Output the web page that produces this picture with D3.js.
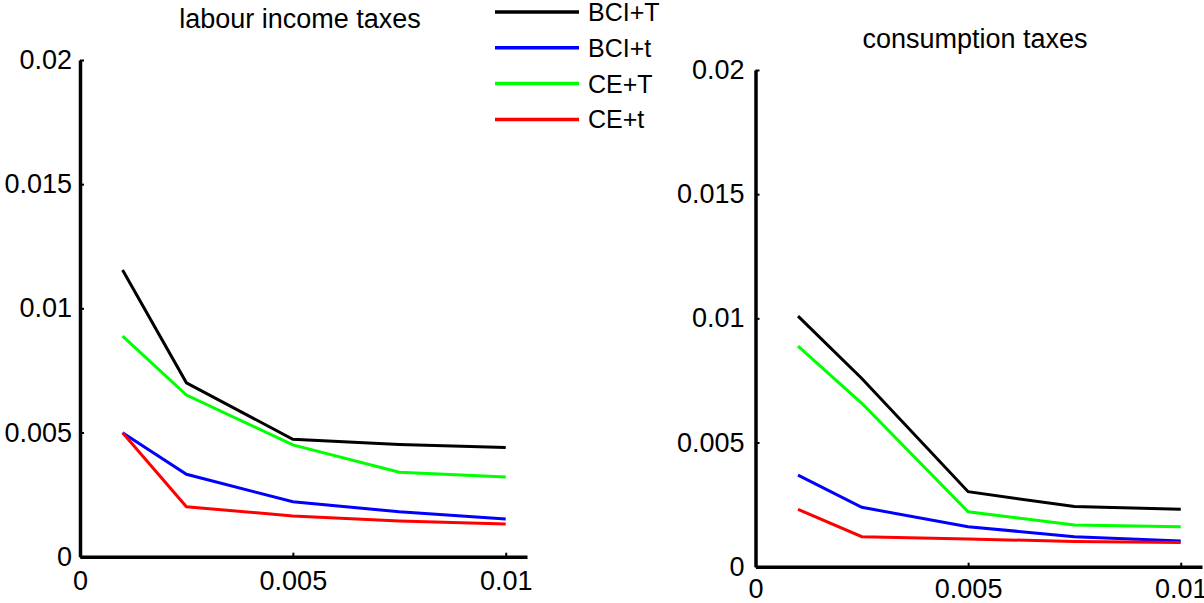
<!DOCTYPE html>
<html>
<head>
<meta charset="utf-8">
<script src="https://cdn.jsdelivr.net/npm/d3@7"></script>
<style>
  html, body { margin: 0; padding: 0; background: #fff; }
  svg text { font-family: "Liberation Sans", Arial, sans-serif; }
</style>
</head>
<body>
<div id="chart"></div>
<script>
// data
const xValues = [0.001, 0.0025, 0.005, 0.0075, 0.01];
const seriesNames = ["BCI+T", "BCI+t", "CE+T", "CE+t"];
const seriesColors = ["#000000", "#0000ff", "#00ff00", "#ff0000"];

// labour income taxes
const labourBCIT = [0.01154, 0.0070, 0.00473, 0.00452, 0.00440];
const labourBCIt = [0.00499, 0.00332, 0.00221, 0.00181, 0.00152];
const labourCET  = [0.00888, 0.00651, 0.00450, 0.00340, 0.00321];
const labourCEt  = [0.00499, 0.00201, 0.00164, 0.00144, 0.00132];

// consumption taxes
const consBCIT = [0.01009, 0.00758, 0.00302, 0.00242, 0.00231];
const consBCIt = [0.00369, 0.00239, 0.00161, 0.00121, 0.00103];
const consCET  = [0.00888, 0.00658, 0.00221, 0.00168, 0.00161];
const consCEt  = [0.00231, 0.00121, 0.00112, 0.00101, 0.00097];

const xTicks = [0, 0.005, 0.01];
const yTicks = [0, 0.005, 0.01, 0.015, 0.02];

const width = 1204, height = 603;

const svg = d3.select("#chart")
  .append("svg")
  .attr("width", width)
  .attr("height", height);

// panel settings (position only)
const panels = [
  { title: "labour income taxes", series: [labourBCIT, labourBCIt, labourCET, labourCEt],
    xr: [80, 527], yr: [556.7, 60], titleX: 300, titleY: 28, xPad: 14, yPad: 8 },
  { title: "consumption taxes", series: [consBCIT, consBCIt, consCET, consCEt],
    xr: [755.5, 1202], yr: [566.7, 70], titleX: 975, titleY: 48, xPad: 12, yPad: 11 }
];

const fmt = d3.format("~g");

panels.forEach(p => {
  const x = d3.scaleLinear().domain([0, 0.0105]).range(p.xr);
  const y = d3.scaleLinear().domain([0, 0.02]).range(p.yr);
  const g = svg.append("g");

  // lines
  const line = d3.line().x((d, i) => x(xValues[i])).y(d => y(d));
  p.series.forEach((s, k) => {
    g.append("path")
      .datum(s)
      .attr("d", line)
      .attr("fill", "none")
      .attr("stroke", seriesColors[k])
      .attr("stroke-width", 3)
      .attr("stroke-linejoin", "miter");
  });

  // axes
  const xAxis = g.append("g")
    .attr("transform", `translate(0,${p.yr[0]})`)
    .call(d3.axisBottom(x).tickValues(xTicks).tickFormat(fmt)
      .tickSizeInner(-4).tickSizeOuter(0).tickPadding(p.xPad));
  const yAxis = g.append("g")
    .attr("transform", `translate(${p.xr[0]},0)`)
    .call(d3.axisLeft(y).tickValues(yTicks).tickFormat(fmt)
      .tickSizeInner(-4).tickSizeOuter(0).tickPadding(p.yPad));

  [xAxis, yAxis].forEach(a => {
    a.select(".domain").attr("stroke", "#000").attr("stroke-width", 3.5);
    a.selectAll(".tick line").attr("stroke", "#000").attr("stroke-width", 2);
    a.selectAll(".tick text").attr("fill", "#000").style("font-size", "27px");
  });

  g.append("text")
    .attr("x", p.titleX)
    .attr("y", p.titleY)
    .attr("text-anchor", "middle")
    .style("font-size", "27px")
    .text(p.title);
});

// legend
const legend = svg.append("g").attr("transform", "translate(495,12)");
seriesNames.forEach((name, i) => {
  const row = legend.append("g").attr("transform", `translate(0,${i * 35.8})`);
  row.append("line")
    .attr("x1", 0).attr("x2", 84)
    .attr("y1", 0).attr("y2", 0)
    .attr("stroke", seriesColors[i])
    .attr("stroke-width", 3.5);
  row.append("text")
    .attr("x", 93)
    .attr("y", 0)
    .attr("dy", "0.36em")
    .style("font-size", "25px")
    .text(name);
});
</script>
</body>
</html>
